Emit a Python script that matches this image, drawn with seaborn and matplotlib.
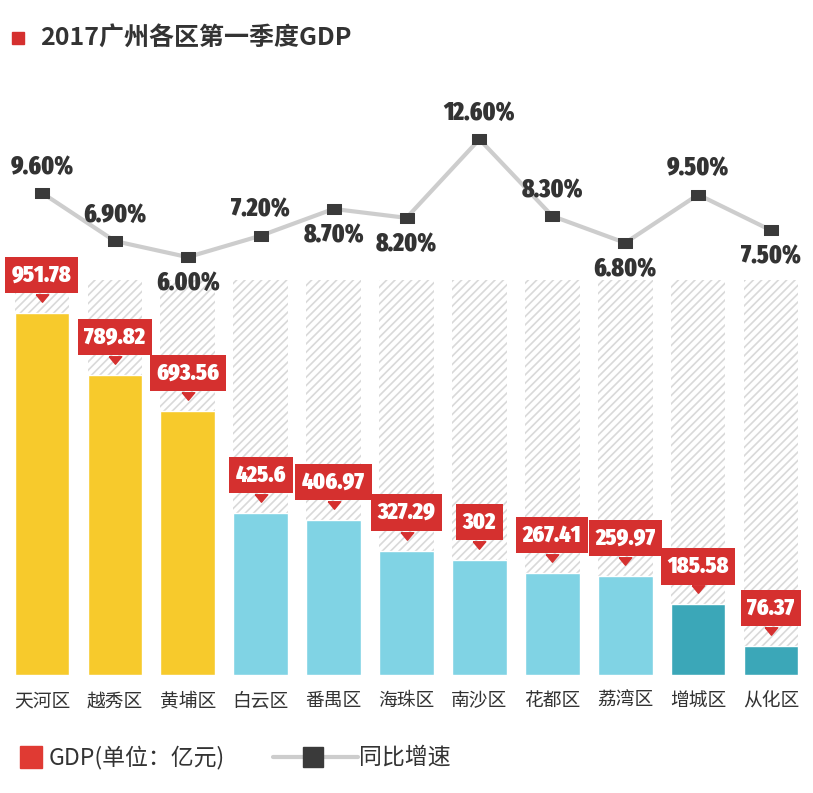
import numpy as np
import pandas as pd
import matplotlib
matplotlib.use("Agg")
import matplotlib.pyplot as plt
import matplotlib.transforms as mtransforms
from matplotlib.patches import Rectangle
from matplotlib.lines import Line2D
from matplotlib import font_manager
import seaborn as sns

# 数据
districts = ["天河区", "越秀区", "黄埔区", "白云区", "番禺区", "海珠区",
             "南沙区", "花都区", "荔湾区", "增城区", "从化区"]
gdp = [951.78, 789.82, 693.56, 425.6, 406.97, 327.29, 302, 267.41, 259.97, 185.58, 76.37]
growth = [9.6, 6.9, 6.0, 7.2, 8.7, 8.2, 12.6, 8.3, 6.8, 9.5, 7.5]

# 样式
yellow, light_blue, teal = "#f7ca2c", "#80d3e4", "#3ba7b8"
bar_colors = [yellow, yellow, yellow, light_blue, light_blue, light_blue,
              light_blue, light_blue, light_blue, teal, teal]
label_side = ["up", "up", "down", "up", "down", "down", "up", "up", "down", "up", "down"]
red = "#d5302f"
dark = "#333333"

sns.set_theme(style="white")
plt.rcParams["font.family"] = ["Noto Sans CJK SC", "DejaVu Sans"]

# 找一个窄体粗体字 (越窄越好)
def rank(f):
    low = (f.fname + " " + f.name).lower().replace("-", "").replace(" ", "")
    if "italic" in low or "oblique" in low:
        return None
    w = f.weight if isinstance(f.weight, int) else (700 if "bold" in str(f.weight) else 400)
    if w < 700 and "bold" not in low and "black" not in low:
        return None
    if "extracondensed" in low:
        return 0
    if "semicondensed" in low:
        return 3
    if "condensed" in low or "narrow" in low:
        return 1 if "dejavu" not in low else 2
    return None

cands = []
for f in font_manager.fontManager.ttflist:
    r = rank(f)
    if r is not None:
        cands.append((r, f.fname))
if cands:
    best = sorted(cands)[0]
    num_fp = font_manager.FontProperties(fname=best[1])
    num_size = 17 if best[0] < 2 else 14
else:
    num_fp = font_manager.FontProperties(family="Roboto", weight="bold")
    num_size = 13.5

df = pd.DataFrame({"区": districts, "GDP": gdp, "增速": growth})
df["背景"] = max(gdp) * (675 - 280) / (675 - 313)

W, H = 813, 793
fig = plt.figure(figsize=(W / 100, H / 100), dpi=100)
fig.patch.set_facecolor("white")
ax = fig.add_axes([5.5 / W, 118 / H, 802 / W, 575 / H])

# 背景斜线柱
plt.rcParams["hatch.linewidth"] = 1.2
sns.barplot(data=df, x="区", y="背景", color="white", width=0.75, saturation=1, ax=ax)
for p in ax.patches:
    p.set_facecolor("none")
    p.set_edgecolor("#d9d9d9")
    p.set_linewidth(0)
    p.set_hatch("////")

# GDP 柱
sns.barplot(data=df, x="区", y="GDP", hue="区", palette=dict(zip(districts, bar_colors)),
            legend=False, width=0.75, saturation=1, ax=ax)

ax.set_ylim(0, max(gdp) * (675 - 100) / (675 - 313))
ax.set_xlim(-0.5, len(districts) - 0.5)
ax.set_xlabel("")
ax.set_ylabel("")
ax.set_yticks([])
sns.despine(ax=ax, left=True, bottom=True)
ax.tick_params(axis="x", length=0, pad=11, labelsize=13.5, colors=dark)

# 红色标签
tri = [(-1, 0.6), (1, 0.6), (0, -0.6), (-1, 0.6)]
for i, v in enumerate(gdp):
    ax.text(i, v, f"{v:g}",
            transform=mtransforms.offset_copy(ax.transData, fig=fig, x=0, y=38, units="dots"),
            ha="center", va="center", color="white", fontsize=num_size,
            fontproperties=num_fp,
            bbox=dict(boxstyle="square,pad=0.28", fc=red, ec="none"), zorder=5)
    ax.plot(i, v, marker=tri, ms=9, color=red, linestyle="none",
            transform=mtransforms.offset_copy(ax.transData, fig=fig, x=0, y=15, units="dots"),
            zorder=5)

# 同比增速折线
ax2 = ax.twinx()
ax2.patch.set_alpha(0)
rect = [(-1, -0.65), (1, -0.65), (1, 0.65), (-1, 0.65), (-1, -0.65)]
sns.lineplot(data=df, x="区", y="增速", ax=ax2, sort=False, color="#cdcdcd", linewidth=3,
             marker=rect, markersize=10, markerfacecolor="#3a3a3a", markeredgecolor="#3a3a3a")
ax2.set_ylim(-17.4, 14.8)
ax2.set_yticks([])
ax2.set_ylabel("")
ax2.set_xlabel("")
sns.despine(ax=ax2, left=True, bottom=True, right=True)
for i, (g, side) in enumerate(zip(growth, label_side)):
    dy = 26 if side == "up" else -26
    ax2.text(i, g, f"{g:.2f}%",
             transform=mtransforms.offset_copy(ax2.transData, fig=fig, x=0, y=dy, units="dots"),
             ha="center", va="center", fontsize=18, color=dark,
             fontproperties=num_fp)

# 标题
fig.add_artist(Rectangle((12 / W, (H - 44) / H), 12 / W, 12 / H,
                         transform=fig.transFigure, color=red))
fig.text(40 / W, (H - 38) / H, "2017广州各区第一季度GDP", fontsize=18, fontweight="bold",
         color=dark, va="center", ha="left")

# 图例
ly = (H - 757) / H
fig.add_artist(Rectangle((20 / W, (H - 768) / H), 22 / W, 22 / H,
                         transform=fig.transFigure, color="#e03a33"))
fig.text(49 / W, ly, "GDP(单位：亿元)", fontsize=16.5, color=dark, va="center", ha="left")
fig.add_artist(Line2D([273 / W, 358 / W], [ly, ly], transform=fig.transFigure,
                      color="#cdcdcd", linewidth=3))
fig.add_artist(Line2D([313 / W], [ly], transform=fig.transFigure, marker="s",
                      markersize=15, color="#3a3a3a", linestyle="none"))
fig.text(359 / W, ly, "同比增速", fontsize=16.5, color=dark, va="center", ha="left")

fig.savefig("out.png", dpi=100)
